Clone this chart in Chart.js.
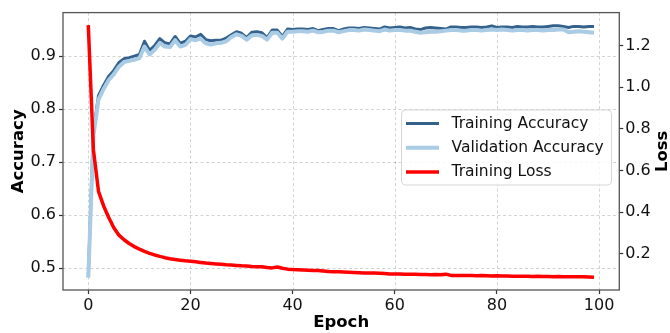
<!DOCTYPE html>
<html><head><meta charset="utf-8">
<script src="https://cdn.jsdelivr.net/npm/chart.js@4/dist/chart.umd.min.js"></script>
<style>html,body{margin:0;padding:0;background:#fff;}canvas{display:block;}</style>
</head><body>
<canvas id="c" width="670" height="333"></canvas>
<script>
const epochs = Array.from({length: 100}, (_, i) => i);
const trainAcc = [0.485,0.758,0.826,0.845,0.862,0.873,0.888,0.895,0.897,0.900,
0.903,0.928,0.911,0.920,0.933,0.925,0.923,0.937,0.924,0.928,
0.938,0.936,0.941,0.931,0.929,0.930,0.930,0.934,0.940,0.946,
0.943,0.935,0.945,0.946,0.944,0.935,0.949,0.949,0.937,0.951,
0.950,0.951,0.951,0.950,0.952,0.948,0.950,0.952,0.952,0.948,
0.951,0.953,0.953,0.952,0.954,0.953,0.952,0.951,0.955,0.953,
0.954,0.955,0.953,0.954,0.951,0.950,0.953,0.954,0.953,0.952,
0.951,0.955,0.955,0.954,0.954,0.955,0.955,0.954,0.955,0.957,
0.954,0.955,0.955,0.954,0.956,0.955,0.955,0.956,0.955,0.955,
0.956,0.957,0.957,0.956,0.954,0.956,0.956,0.955,0.956,0.956];
const valAcc = [0.482,0.750,0.818,0.838,0.855,0.866,0.880,0.889,0.891,0.893,
0.896,0.918,0.903,0.912,0.925,0.918,0.917,0.930,0.918,0.921,
0.932,0.930,0.933,0.924,0.922,0.924,0.925,0.928,0.936,0.941,
0.938,0.931,0.939,0.940,0.938,0.931,0.944,0.944,0.933,0.946,
0.946,0.947,0.947,0.946,0.948,0.945,0.946,0.948,0.948,0.945,
0.947,0.949,0.949,0.948,0.950,0.949,0.948,0.947,0.950,0.948,
0.949,0.949,0.948,0.948,0.946,0.944,0.945,0.946,0.946,0.947,
0.948,0.949,0.949,0.948,0.948,0.949,0.949,0.948,0.949,0.950,
0.949,0.950,0.949,0.948,0.949,0.949,0.948,0.949,0.949,0.948,
0.949,0.949,0.950,0.950,0.945,0.946,0.947,0.946,0.945,0.944];
const trainLoss = [1.297,0.700,0.500,0.430,0.375,0.325,0.290,0.268,0.250,0.235,
0.223,0.212,0.203,0.195,0.188,0.182,0.177,0.173,0.170,0.167,
0.165,0.162,0.159,0.156,0.154,0.152,0.150,0.148,0.147,0.145,
0.143,0.142,0.140,0.139,0.138,0.135,0.133,0.137,0.131,0.127,
0.125,0.124,0.123,0.122,0.121,0.120,0.118,0.116,0.115,0.114,
0.113,0.112,0.111,0.110,0.109,0.108,0.108,0.107,0.106,0.104,
0.104,0.104,0.103,0.102,0.102,0.101,0.101,0.100,0.101,0.100,
0.103,0.097,0.097,0.097,0.096,0.096,0.095,0.096,0.095,0.094,
0.095,0.094,0.094,0.093,0.093,0.093,0.093,0.092,0.093,0.092,
0.092,0.091,0.092,0.091,0.090,0.090,0.091,0.090,0.089,0.088];
const xTicks = [0, 20, 40, 60, 80, 100];
const accTicks = [0.5, 0.6, 0.7, 0.8, 0.9];
const lossTicks = [0.2, 0.4, 0.6, 0.8, 1.0, 1.2];
const seriesNames = ['Training Accuracy', 'Validation Accuracy', 'Training Loss'];
const seriesColors = ['#35628d', '#a9cbe4', '#ff0000'];
const seriesWidths = [3, 4, 3.5];

const FONT = '"DejaVu Sans", sans-serif';

const decor = {
  id: 'decor',
  beforeDatasetsDraw(chart) {
    const {ctx, chartArea: a, scales} = chart;
    ctx.save();
    ctx.beginPath(); ctx.rect(a.left, a.top, a.right - a.left, a.bottom - a.top); ctx.clip();
    ctx.strokeStyle = 'rgba(0,0,0,0.22)';
    ctx.lineWidth = 0.8;
    ctx.setLineDash([3, 2.5]);
    for (const v of xTicks) {
      const px = Math.round(scales.x.getPixelForValue(v)) + 0.5;
      ctx.beginPath(); ctx.moveTo(px, a.top); ctx.lineTo(px, a.bottom); ctx.stroke();
    }
    for (const v of accTicks) {
      const py = Math.round(scales.y.getPixelForValue(v)) + 0.5;
      ctx.beginPath(); ctx.moveTo(a.left, py); ctx.lineTo(a.right, py); ctx.stroke();
    }
    ctx.restore();
  },
  afterDatasetsDraw(chart) {
    const {ctx, chartArea: a} = chart;
    ctx.save();
    ctx.strokeStyle = '#555';
    ctx.lineWidth = 1.3;
    ctx.strokeRect(a.left, a.top, a.right - a.left, a.bottom - a.top);
    const L = 401.5, T = 110, W = 210, H = 75, r = 4;
    ctx.fillStyle = 'rgba(255,255,255,0.8)';
    ctx.strokeStyle = '#d6d6d6';
    ctx.lineWidth = 1;
    ctx.beginPath();
    ctx.moveTo(L + r, T); ctx.lineTo(L + W - r, T); ctx.arcTo(L + W, T, L + W, T + r, r);
    ctx.lineTo(L + W, T + H - r); ctx.arcTo(L + W, T + H, L + W - r, T + H, r);
    ctx.lineTo(L + r, T + H); ctx.arcTo(L, T + H, L, T + H - r, r);
    ctx.lineTo(L, T + r); ctx.arcTo(L, T, L + r, T, r);
    ctx.closePath(); ctx.fill(); ctx.stroke();
    ctx.font = '15.5px ' + FONT;
    ctx.textBaseline = 'middle';
    ctx.textAlign = 'left';
    seriesNames.forEach((name, i) => {
      const cy = 123.5 + i * 24.2;
      ctx.strokeStyle = seriesColors[i];
      ctx.lineWidth = seriesWidths[i];
      ctx.lineCap = 'butt';
      ctx.beginPath(); ctx.moveTo(406, cy); ctx.lineTo(439, cy); ctx.stroke();
      ctx.fillStyle = '#111';
      ctx.fillText(name, 451.5, cy + 0.5);
    });
    ctx.fillStyle = '#000';
    ctx.font = 'bold 16.5px ' + FONT;
    ctx.textAlign = 'center';
    ctx.textBaseline = 'alphabetic';
    ctx.fillText('Epoch', (a.left + a.right) / 2, 327);
    const cyMid = (a.top + a.bottom) / 2;
    ctx.save(); ctx.translate(22.5, cyMid); ctx.rotate(-Math.PI / 2); ctx.fillText('Accuracy', 0, 0); ctx.restore();
    ctx.save(); ctx.translate(666.5, cyMid); ctx.rotate(-Math.PI / 2); ctx.fillText('Loss', 0, 0); ctx.restore();
    ctx.restore();
  }
};

const pts = arr => arr.map((v, i) => ({x: epochs[i], y: v}));

new Chart(document.getElementById('c'), {
  type: 'line',
  data: {
    datasets: [
      {label: seriesNames[2], data: pts(trainLoss), yAxisID: 'y2', borderColor: seriesColors[2], borderWidth: seriesWidths[2], order: 0},
      {label: seriesNames[1], data: pts(valAcc), yAxisID: 'y', borderColor: seriesColors[1], borderWidth: seriesWidths[1], order: 1},
      {label: seriesNames[0], data: pts(trainAcc), yAxisID: 'y', borderColor: seriesColors[0], borderWidth: seriesWidths[0], order: 2}
    ]
  },
  options: {
    responsive: false,
    animation: false,
    devicePixelRatio: 1,
    layout: {padding: {top: 7.5, left: 0, right: 0, bottom: 0}},
    elements: {point: {radius: 0}, line: {tension: 0, borderJoinStyle: 'round', borderCapStyle: 'butt'}},
    plugins: {legend: {display: false}, tooltip: {enabled: false}},
    scales: {
      x: {
        type: 'linear', position: 'bottom', min: -4.95, max: 103.95,
        afterBuildTicks: s => { s.ticks = xTicks.map(v => ({value: v})); },
        afterFit: s => { s.height = 43; },
        grid: {drawOnChartArea: false, drawTicks: true, tickLength: 4, tickColor: '#333', tickWidth: 1.2, color: '#333'},
        border: {display: false},
        ticks: {font: {family: FONT, size: 16}, color: '#111', padding: 2, maxRotation: 0, callback: v => String(v)}
      },
      y: {
        type: 'linear', position: 'left', min: 0.459, max: 0.982,
        afterBuildTicks: s => { s.ticks = accTicks.map(v => ({value: v})); },
        afterFit: s => { s.width = 63; },
        grid: {drawOnChartArea: false, drawTicks: true, tickLength: 4, tickColor: '#333', tickWidth: 1.2, color: '#333'},
        border: {display: false},
        ticks: {font: {family: FONT, size: 16}, color: '#111', padding: 3, callback: v => v.toFixed(1)}
      },
      y2: {
        type: 'linear', position: 'right', min: 0.027, max: 1.357,
        afterBuildTicks: s => { s.ticks = lossTicks.map(v => ({value: v})); },
        afterFit: s => { s.width = 50.7; },
        grid: {drawOnChartArea: false, drawTicks: true, tickLength: 4, tickColor: '#333', tickWidth: 1.2, color: '#333'},
        border: {display: false},
        ticks: {font: {family: FONT, size: 16}, color: '#111', padding: 2, callback: v => v.toFixed(1)}
      }
    }
  },
  plugins: [decor]
});
</script>
</body></html>
